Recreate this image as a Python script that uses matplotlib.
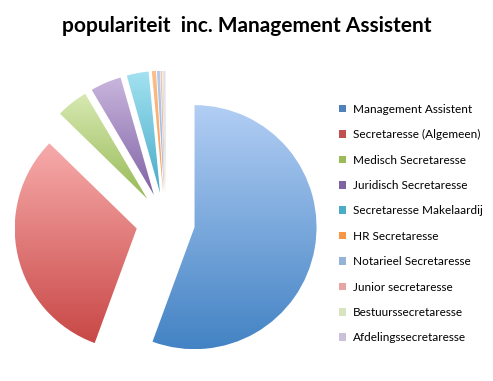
import numpy as np
import matplotlib.pyplot as plt
from matplotlib.colors import LinearSegmentedColormap
from matplotlib.patches import Patch

plt.rc('font', family='Lato')

labels = ['Management Assistent', 'Secretaresse (Algemeen)', 'Medisch Secretaresse',
          'Juridisch Secretaresse', 'Secretaresse Makelaardij', 'HR Secretaresse',
          'Notarieel Secretaresse', 'Junior secretaresse', 'Bestuurssecretaresse',
          'Afdelingssecretaresse']
shares = [55.6, 31.7, 4.2, 4.1, 2.9, 0.55, 0.4, 0.2, 0.2, 0.15]

# gradient per slice: light at the top, darker at the bottom
top_colors = ['#b2cef4', '#f7abab', '#d8e9b2', '#c9b6dd', '#a3e2f1', '#fbc08e',
              '#b8cbeb', '#f1c3c2', '#e3efcc', '#dcd2e9']
bottom_colors = ['#4383c4', '#c84846', '#97ba57', '#7f63a6', '#48abc8', '#f79646',
                 '#93b1d8', '#e49c9b', '#c9dca2', '#bcaed5']
legend_colors = ['#4f81bd', '#c0504d', '#9bbb59', '#8064a2', '#4bacc6', '#f79646',
                 '#95b3d7', '#e6a5a4', '#d7e4bd', '#ccc1da']

fig = plt.figure(figsize=(4.93, 3.81), dpi=100)
ax = fig.add_axes([0, 0, 1, 1])

# axes works in pixel units, so explode/radius are in pixels too
wedges, _ = ax.pie(shares, startangle=90, counterclock=False,
                   explode=[29.5] * len(shares), center=(165.5, 159), radius=122)

grad = np.linspace(0, 1, 256).reshape(-1, 1)
for w, c_top, c_bot in zip(wedges, top_colors, bottom_colors):
    bb = w.get_path().get_extents()
    cmap = LinearSegmentedColormap.from_list('g', [c_bot, c_top])
    im = ax.imshow(grad, extent=[bb.x0, bb.x1, bb.y0, bb.y1], origin='lower',
                   cmap=cmap, aspect='auto', interpolation='bilinear')
    im.set_clip_path(w)
    w.set_facecolor('none')
    w.set_edgecolor('none')

ax.set_xlim(0, 493)
ax.set_ylim(0, 381)
ax.set_aspect('equal')
ax.axis('off')

handles = [Patch(facecolor=c, edgecolor='none', label=l) for c, l in zip(legend_colors, labels)]
fig.legend(handles=handles, loc='upper left', bbox_to_anchor=(334 / 493, 1 - 99 / 381),
           frameon=False, fontsize=8.5, handlelength=0.6, handleheight=0.6,
           handletextpad=0.6, labelspacing=1.22, borderaxespad=0)

fig.text(0.5, 1 - 26 / 381, 'populariteit  inc. Management Assistent',
         ha='center', va='center', fontsize=15, fontweight='bold')

plt.savefig('out.png', dpi=100)
